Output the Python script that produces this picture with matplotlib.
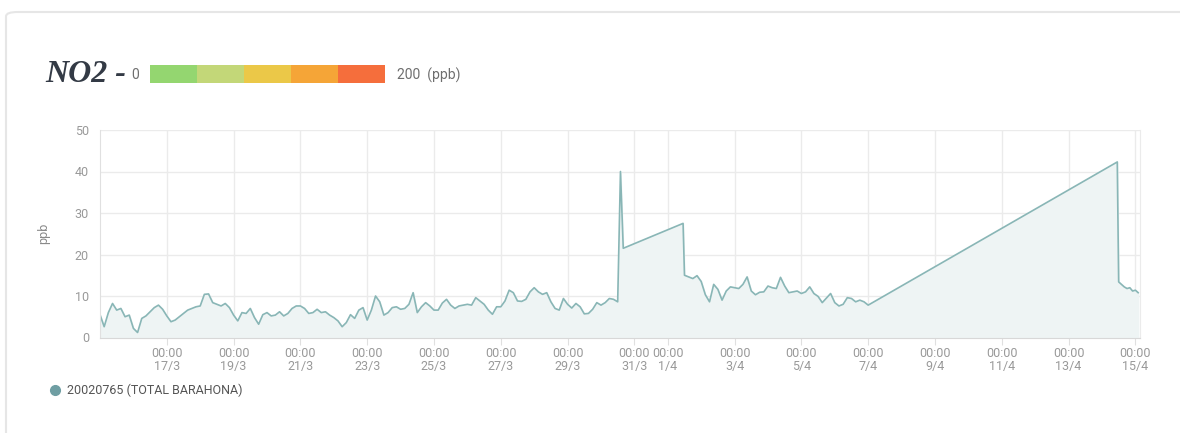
import matplotlib.pyplot as plt
from matplotlib.patches import FancyBboxPatch, Rectangle
from matplotlib.lines import Line2D
import numpy as np
import pandas as pd

plt.rcParams['font.family'] = ['Roboto', 'DejaVu Sans']

# hourly NO2 readings (ppb), station 20020765, sampled every 3 h
seg_a_start = "2020-03-15 00:00"
seg_a_no2 = [
    5.5, 2.6, 6.0, 8.2, 6.6, 7.0, 5.0, 5.4, 2.2, 1.2, 4.6, 5.2, 6.2, 7.2, 7.8, 6.8,
    5.2, 3.8, 4.2, 5.0, 5.8, 6.6, 7.0, 7.4, 7.6, 10.4, 10.5, 8.4, 8.0, 7.6, 8.2, 7.2,
    5.4, 4.0, 6.0, 5.8, 7.0, 4.8, 3.2, 5.5, 6.0, 5.2, 5.4, 6.2, 5.2, 5.8, 7.0, 7.6,
    7.6, 7.0, 5.8, 6.0, 6.8, 6.0, 6.2, 5.4, 4.8, 4.0, 2.6, 3.6, 5.5, 4.6, 6.6, 7.2,
    4.2, 6.6, 10.0, 8.6, 5.4, 6.0, 7.2, 7.4, 6.8, 7.0, 8.0, 10.8, 6.0, 7.4, 8.4, 7.6,
    6.6, 6.6, 8.3, 9.2, 7.8, 7.0, 7.6, 7.8, 8.0, 7.8, 9.6, 8.8, 8.0, 6.6, 5.6, 7.4,
    7.4, 8.8, 11.4, 10.8, 8.8, 8.7, 9.2, 11.0, 12.0, 11.0, 10.4, 10.8, 8.6, 7.0, 6.6, 9.4,
    8.0, 7.1, 8.2, 7.4, 5.7, 5.8, 6.8, 8.4, 7.8, 8.4, 9.4, 9.2, 8.6,
]

# isolated readings around the data gaps
gap_a_times = ["2020-03-30 14:00", "2020-03-30 16:00", "2020-04-01 11:00"]
gap_a_no2 = [40.0, 21.5, 27.5]

seg_b_start = "2020-04-01 12:00"
seg_b_no2 = [
    15.0, 14.6, 14.2, 14.9, 13.5, 10.3, 8.6, 12.8, 11.6, 9.0, 11.2, 12.2, 12.0, 11.8, 12.8, 14.6,
    11.2, 10.3, 10.9, 11.0, 12.4, 12.0, 11.8, 14.5, 12.4, 10.8, 11.0, 11.2, 10.6, 11.0, 12.2, 10.6,
    9.9, 8.4, 9.5, 10.6, 8.4, 7.6, 8.0, 9.6, 9.4, 8.6, 9.0, 8.6, 7.8,
]

gap_b_times = ["2020-04-14 11:00"]
gap_b_no2 = [42.3]

# last readings, every 2 h
seg_c_start = "2020-04-14 12:00"
seg_c_no2 = [13.4, 12.8, 12.2, 11.8, 12.0, 11.2, 11.4, 10.8]

scale_colors = ["#94d670", "#c3d778", "#ebc848", "#f5a537", "#f56e3c"]
station = "20020765 (TOTAL BARAHONA)"
tick_days = ["2020-03-17", "2020-03-19", "2020-03-21", "2020-03-23", "2020-03-25",
             "2020-03-27", "2020-03-29", "2020-03-31", "2020-04-01", "2020-04-03",
             "2020-04-05", "2020-04-07", "2020-04-09", "2020-04-11", "2020-04-13",
             "2020-04-15"]

times = pd.DatetimeIndex(
    list(pd.date_range(seg_a_start, periods=len(seg_a_no2), freq="3h"))
    + list(pd.to_datetime(gap_a_times))
    + list(pd.date_range(seg_b_start, periods=len(seg_b_no2), freq="3h"))
    + list(pd.to_datetime(gap_b_times))
    + list(pd.date_range(seg_c_start, periods=len(seg_c_no2), freq="2h"))
)
values = np.array(seg_a_no2 + gap_a_no2 + seg_b_no2 + gap_b_no2 + seg_c_no2)

W, H = 1180, 433
fig = plt.figure(figsize=(W / 100, H / 100), dpi=100)
fig.patch.set_facecolor("white")

# card outline
card = FancyBboxPatch((6 / W, -0.1), 1.2, 1.1 - 12 / H,
                      boxstyle="round,pad=0,rounding_size=0.01",
                      transform=fig.transFigure, facecolor="white",
                      edgecolor="#e6e6e6", linewidth=1.5, zorder=0)
fig.patches.append(card)

ax = fig.add_axes([100 / W, 1 - 337.5 / H, 1040 / W, 207.5 / H])
ax.set_zorder(3)
ax.patch.set_alpha(0)

line_color = "#89b6b6"
ax.fill_between(times, values, 0, color="#eef4f4", zorder=1)
ax.plot(times, values, color=line_color, linewidth=1.2, zorder=2)

ax.set_ylim(0, 50)
ax.set_yticks(range(0, 51, 10))
ax.set_xlim(pd.Timestamp("2020-03-15 00:00"), pd.Timestamp("2020-04-15 03:20"))
ticks = pd.to_datetime(tick_days)
ax.set_xticks(ticks)
ax.set_xticklabels([f"00:00\n{t.day}/{t.month}" for t in ticks])

ax.grid(True, color="#ebebeb", linewidth=1)
ax.set_axisbelow(True)
ax.spines["top"].set_visible(False)
ax.spines["right"].set_color("#ebebeb")
ax.spines["left"].set_color("#e0e0e0")
ax.spines["bottom"].set_color("#d8d8d8")
ax.tick_params(axis="x", colors="#e0e0e0", labelcolor="#999999", labelsize=9,
               length=5, pad=2)
ax.tick_params(axis="y", length=0, labelcolor="#999999", labelsize=9, pad=8)
for lbl in ax.get_xticklabels():
    lbl.set_linespacing(0.95)
ax.set_ylabel("ppb", color="#8a8a8a", fontsize=9, labelpad=18)

# header with the concentration scale
fig.text(45 / W, 1 - 74 / H, "NO2 -", fontsize=23, fontweight="bold",
         fontstyle="italic", family="Liberation Serif", color="#333a45",
         va="center", ha="left")
fig.text(135 / W, 1 - 75 / H, "0", fontsize=10, color="#6e6e6e",
         va="center", ha="center")
x0 = 150
w = 47
for i, c in enumerate(scale_colors):
    fig.patches.append(Rectangle(((x0 + i * w) / W, 1 - 83 / H), w / W, 18 / H,
                                 transform=fig.transFigure, facecolor=c,
                                 edgecolor="none", zorder=2))
fig.text(397 / W, 1 - 75 / H, "200  (ppb)", fontsize=10, color="#6e6e6e",
         va="center", ha="left")

# legend
fig.add_artist(Line2D([55 / W], [1 - 390 / H], marker="o", markersize=7,
                      color="#6f9ea3", linestyle="none", transform=fig.transFigure))
fig.text(67 / W, 1 - 390 / H, station, fontsize=9, color="#555555",
         va="center", ha="left")

plt.savefig("out.png", dpi=100)
